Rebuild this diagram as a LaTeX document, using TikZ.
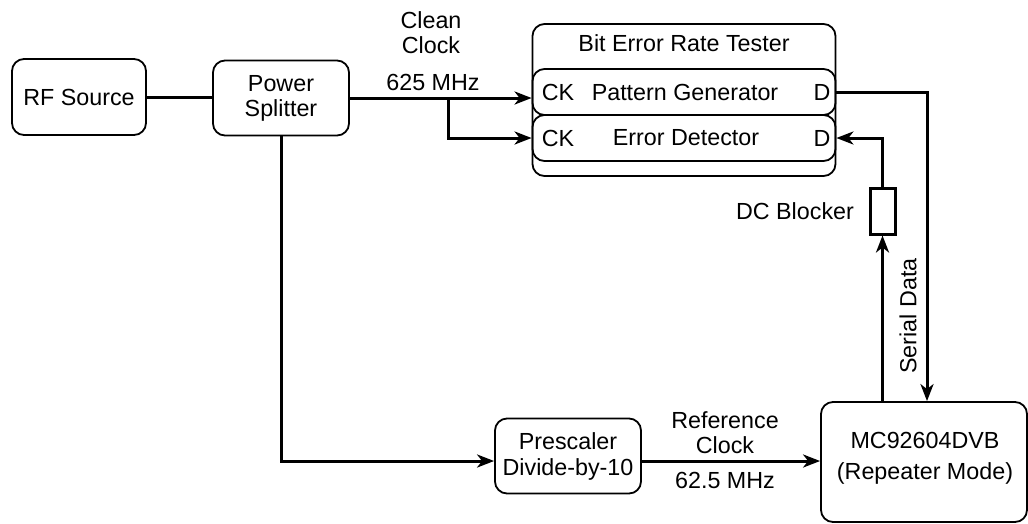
\documentclass[tikz,border=0pt]{standalone}
\usepackage{fontspec}
\setmainfont{Liberation Sans}
\usetikzlibrary{arrows.meta}
\begin{document}
\begin{tikzpicture}[x=1pt,y=-1pt,
  every node/.style={font=\fontsize{23.3}{25}\selectfont, inner sep=0pt},
  blk/.style={draw, line width=1.8pt, rounded corners=12pt, align=center},
  conn/.style={line width=3pt},
  arr/.style={conn, -{Stealth[length=17pt,width=13pt,inset=5pt]}},
  lbl/.style={align=center}]
\useasboundingbox (0,0) rectangle (1028,523);
% blocks
\node[blk, minimum width=134pt, minimum height=76pt] (rf) at (79,97) {RF Source};
\node[blk, minimum width=136pt, minimum height=75pt] (ps) at (281,98) {Power\\Splitter};
\node[blk, minimum width=303pt, minimum height=152pt] (bert) at (684,100) {};
\node[lbl] (bertt) at (684,43) {Bit Error Rate Tester};
\node[blk, minimum width=303pt, minimum height=46pt] (pg) at (684,92) {};
\node[blk, minimum width=303pt, minimum height=46pt] (ed) at (684,138) {};
\node (pgck) at (558,92) {CK};
\node (pgt) at (685,92) {Pattern Generator};
\node (pgd) at (822,92) {D};
\node (edck) at (558,138) {CK};
\node (edt) at (686,138) {Error Detector};
\node (edd) at (822,138) {D};
\node[blk, minimum width=146pt, minimum height=75pt, font=\fontsize{23.3}{26}\selectfont] (pre) at (568,456) {Prescaler\\Divide-by-10};
\node[blk, minimum width=206pt, minimum height=120pt] (mc) at (924,462) {};
\node[lbl, font=\fontsize{23.3}{31}\selectfont] (mct) at (925,458) {MC92604DVB\\(Repeater Mode)};
\node[draw, line width=3pt, minimum width=25pt, minimum height=46pt] (dcb) at (882.5,211) {};
% labels
\node[lbl] (cc) at (431,33) {Clean\\Clock};
\node[lbl] (f1) at (433,82) {625 MHz};
\node[lbl] (rc) at (725,433) {Reference\\Clock};
\node[lbl] (f2) at (725,480) {62.5 MHz};
\node[lbl] (dcl) at (795,211) {DC Blocker};
\node[lbl, rotate=90] (sd) at (908,316) {Serial Data};
% helper coordinates
\coordinate (br) at (448,98);
\coordinate (ya) at (0,461);
\coordinate (xr) at (927,0);
% connectors
\draw[conn] (rf.east) -- (rf.east -| ps.west);
\draw[arr] (ps.east) -- (ps.east -| pg.west);
\draw[arr] (br) |- (ed.west);
\draw[arr] (ps.south) |- (pre.west |- ya);
\draw[arr] (pre.east |- ya) -- (mc.west |- ya);
\draw[arr] (pg.east) -| (mc.north -| xr);
\draw[arr] (mc.north -| dcb.south) -- (dcb.south);
\draw[arr] (dcb.north) |- (ed.east);
\end{tikzpicture}
\end{document}
